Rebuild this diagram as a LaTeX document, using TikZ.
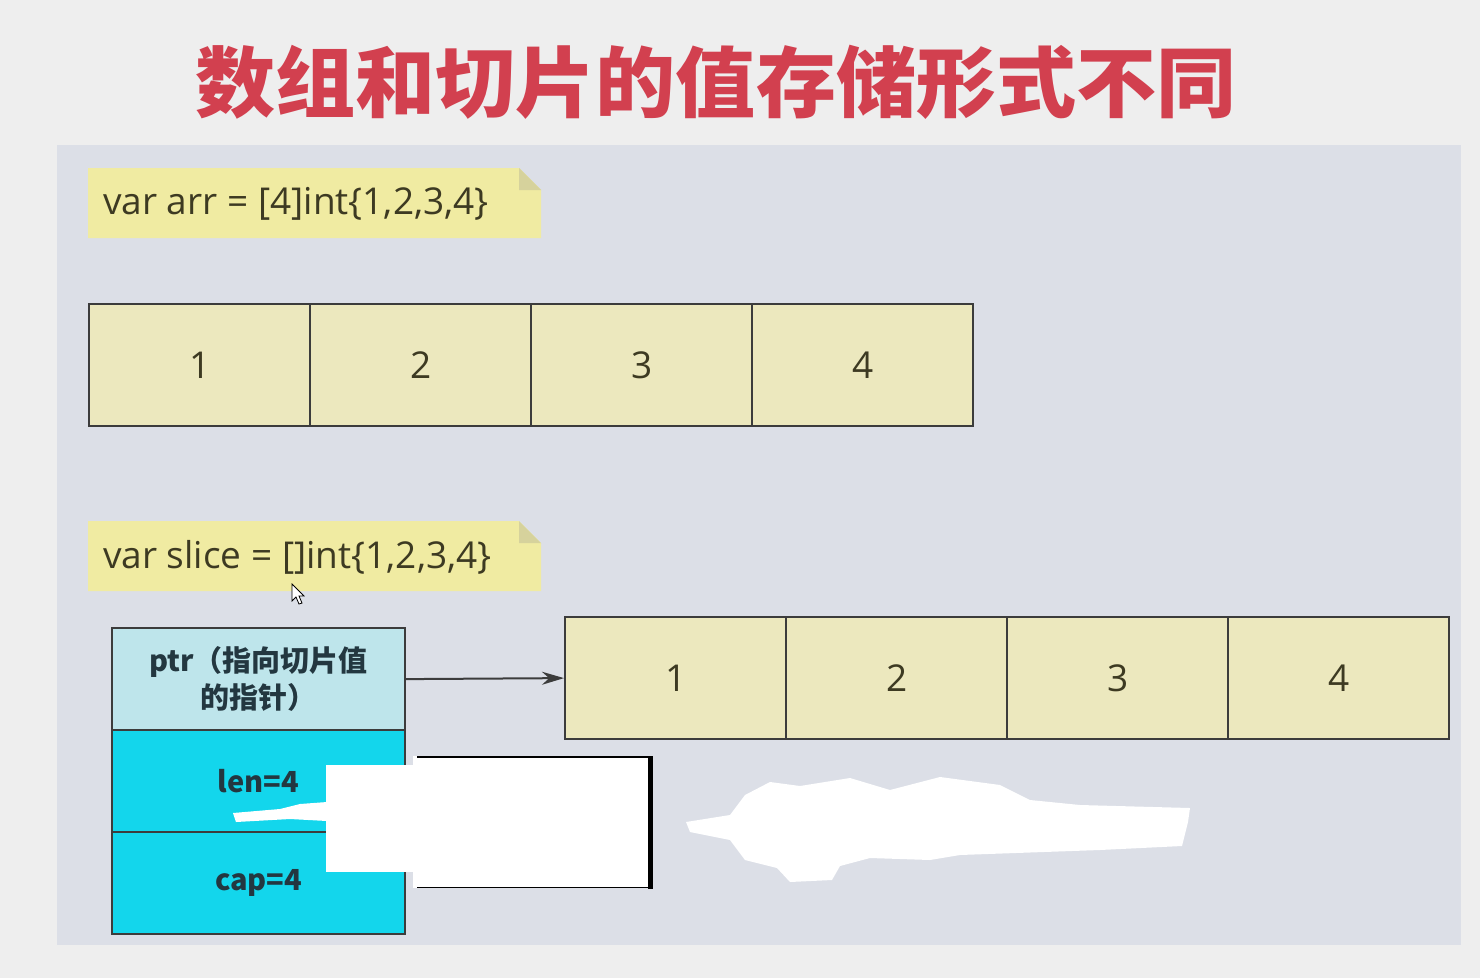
\documentclass[tikz,border=0pt]{standalone}
\usepackage{fontspec}
\setmainfont{Open Sans}
\newfontfamily\cjkfont{Noto Sans CJK SC}
\usetikzlibrary{arrows.meta}
\definecolor{pagebg}{HTML}{EEEEEE}
\definecolor{panelbg}{HTML}{DCDFE7}
\definecolor{titlered}{HTML}{D2404F}
\definecolor{notefill}{HTML}{F0EBA2}
\definecolor{notefold}{HTML}{D6D29C}
\definecolor{cellfill}{HTML}{ECE8BE}
\definecolor{cellline}{HTML}{3C3C3C}
\definecolor{textdark}{HTML}{3D3A22}
\definecolor{ptrfill}{HTML}{BEE5EB}
\definecolor{cyanfill}{HTML}{13D6EC}
\definecolor{structtext}{HTML}{233740}
\tikzset{
  x=1pt, y=-1pt,
  cellbox/.style={draw=cellline, line width=2.2pt, fill=cellfill, minimum width=221pt,
    minimum height=122pt, inner sep=0pt, anchor=north west, text=textdark,
    font=\fontsize{37}{40}\selectfont},
  rowbox/.style={draw=cellline, line width=2.2pt, minimum width=293pt,
    minimum height=102pt, inner sep=0pt, anchor=north west, text=structtext,
    align=center, font=\cjkfont\bfseries\fontsize{29}{37}\selectfont},
  notetext/.style={anchor=west, inner sep=0pt, text=textdark,
    font=\fontsize{37}{40}\selectfont},
  whitepatch/.style={fill=white, draw=none},
}
\begin{document}
\begin{tikzpicture}
\useasboundingbox (0,0) rectangle (1480,978);
\fill[pagebg] (0,0) rectangle (1480,978);
\fill[panelbg] (57,145) rectangle (1461,945);

% title
\node[text=titlered, font=\cjkfont\bfseries\fontsize{77}{84}\selectfont, inner sep=0pt, xscale=1.04]
  (title) at (716,82) {数组和切片的值存储形式不同};

% note 1
\fill[notefill] (88,168) -- (519,168) -- (541,190) -- (541,238) -- (88,238) -- cycle;
\fill[notefold] (519,168) -- (519,190) -- (541,190) -- cycle;
\node[notetext] (note1) at (103,204) {var arr = [4]int\{1,2,3,4\}};

% array cells
\node[cellbox] (a1) at (88,303) {1};
\node[cellbox] (a2) at (309,303) {2};
\node[cellbox] (a3) at (530,303) {3};
\node[cellbox] (a4) at (751,303) {4};

% note 2
\fill[notefill] (88,521) -- (519,521) -- (541,543) -- (541,591) -- (88,591) -- cycle;
\fill[notefold] (519,521) -- (519,543) -- (541,543) -- cycle;
\node[notetext] (note2) at (103,557) {var slice = []int\{1,2,3,4\}};

% mouse cursor
\filldraw[fill=white, draw=black, line width=0.8pt, line join=miter]
  (292,584) -- (292,601) -- (296,597) -- (299,604) -- (302,603) -- (299,596) -- (304,596) -- cycle;

% slice header
\node[rowbox, fill=ptrfill] (ptr) at (111,627) {ptr（指向切片值\\的指针）};
\node[rowbox, fill=cyanfill] (len) at (111,729) {len=4};
\node[rowbox, fill=cyanfill] (cap) at (111,831) {cap=4};

% slice cells
\node[cellbox] (s1) at (564,616) {1};
\node[cellbox] (s2) at (785,616) {2};
\node[cellbox] (s3) at (1006,616) {3};
\node[cellbox] (s4) at (1227,616) {4};

\draw[draw=cellline, line width=2pt, -{Stealth[length=22pt,width=13pt]}] (ptr.east) -- (s1.west);

% white patches
\fill[whitepatch] (233,813) -- (280,809) -- (300,804) -- (327,802) -- (327,821) -- (290,819) -- (236,822) -- cycle;
\fill[whitepatch] (326,765) rectangle (413,872);
\fill[whitepatch] (413,756) rectangle (652,888);
\draw[black, line width=1.2pt] (417,757) -- (650,757);
\draw[black, line width=1.2pt] (417,887.5) -- (650,887.5);
\draw[black, line width=5pt] (650,756) -- (650,889);
\fill[whitepatch] (686,822) -- (730,815) -- (745,795) -- (770,782) -- (800,786) -- (850,778)
  -- (890,790) -- (940,777) -- (1000,785) -- (1030,800) -- (1080,805) -- (1190,808)
  -- (1188,822) -- (1182,846) -- (1100,850) -- (960,855) -- (930,860) -- (870,858)
  -- (840,866) -- (832,880) -- (790,882) -- (777,868) -- (745,860) -- (730,840)
  -- (690,832) -- cycle;
\end{tikzpicture}
\end{document}
